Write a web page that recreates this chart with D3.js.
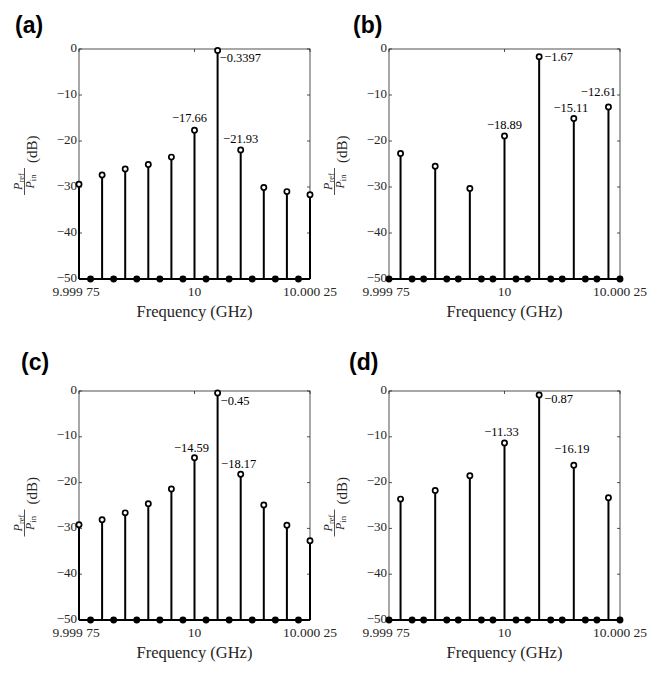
<!DOCTYPE html>
<html>
<head>
<meta charset="utf-8">
<script src="https://cdn.jsdelivr.net/npm/d3@7/dist/d3.min.js"></script>
<style>
  body { margin: 0; background: #fff; }
  svg { display: block; }
</style>
</head>
<body>
<svg id="chart" width="672" height="673"></svg>
<script>
// Frequency grid of the spectrum (GHz)
const frequencyGHz = [
  9.999750, 9.999775, 9.999800, 9.999825, 9.999850, 9.999875, 9.999900,
  9.999925, 9.999950, 9.999975, 10.000000, 10.000025, 10.000050, 10.000075,
  10.000100, 10.000125, 10.000150, 10.000175, 10.000200, 10.000225, 10.000250
];
const xTickValues = [9.99975, 10, 10.00025];
const xTickLabels = ["9.999 75", "10", "10.000 25"];
const yTickValues = [0, -10, -20, -30, -40, -50];
const panelTags = ["(a)", "(b)", "(c)", "(d)"];

// Reflected power ratio P_ref / P_in (dB) for each panel
const powerA = [-29.4, -50, -27.4, -50, -26.1, -50, -25.1, -50, -23.5, -50,
  -17.66, -50, -0.3397, -50, -21.93, -50, -30.1, -50, -31.0, -50, -31.7];
const powerB = [-50, -22.7, -50, -50, -25.5, -50, -50, -30.3, -50, -50,
  -18.89, -50, -50, -1.67, -50, -50, -15.11, -50, -50, -12.61, -50];
const powerC = [-29.2, -50, -28.1, -50, -26.6, -50, -24.6, -50, -21.4, -50,
  -14.59, -50, -0.45, -50, -18.17, -50, -24.9, -50, -29.3, -50, -32.7];
const powerD = [-50, -23.6, -50, -50, -21.7, -50, -50, -18.5, -50, -50,
  -11.33, -50, -50, -0.87, -50, -50, -16.19, -50, -50, -23.3, -50];

// Indices of the lines that carry a value label
const labelledA = [10, 12, 14];
const labelledB = [10, 13, 16, 19];
const labelledC = [10, 12, 14];
const labelledD = [10, 13, 16];

const panelSeries = [powerA, powerB, powerC, powerD];
const panelLabelled = [labelledA, labelledB, labelledC, labelledD];

// Plot frames and label placement
const frames = [
  { left: 79,  right: 310, top: 49,  bottom: 279, tag: [15, 33] },
  { left: 389, right: 620, top: 49,  bottom: 279, tag: [353, 33] },
  { left: 79,  right: 310, top: 391, bottom: 620, tag: [21, 370] },
  { left: 389, right: 620, top: 391, bottom: 620, tag: [349, 370] }
];
const labelPlacement = [
  [{ dx: -5, dy: -8, anchor: "middle" }, { dx: 2, dy: 11, anchor: "start" }, { dx: 0, dy: -7, anchor: "middle" }],
  [{ dx: 0, dy: -7, anchor: "middle" }, { dx: 5, dy: 4, anchor: "start" }, { dx: -3, dy: -7, anchor: "middle" }, { dx: -10, dy: -11, anchor: "middle" }],
  [{ dx: -3, dy: -6, anchor: "middle" }, { dx: 3, dy: 12, anchor: "start" }, { dx: -2, dy: -6, anchor: "middle" }],
  [{ dx: -3, dy: -7, anchor: "middle" }, { dx: 5, dy: 8, anchor: "start" }, { dx: -2, dy: -12, anchor: "middle" }]
];

const serif = "Liberation Serif, Times New Roman, serif";
const axisColor = "#262626";
const svg = d3.select("#chart");

const fmtMinus = v => String(v).replace("-", "\u2212");

panelSeries.forEach((values, p) => {
  const f = frames[p];
  const x = d3.scaleLinear().domain([9.99975, 10.00025]).range([f.left, f.right]);
  const y = d3.scaleLinear().domain([-50, 0]).range([f.bottom, f.top]);
  const g = svg.append("g").style("font-family", serif);

  // frame box
  g.append("rect")
    .attr("x", f.left).attr("y", f.top)
    .attr("width", f.right - f.left).attr("height", f.bottom - f.top)
    .attr("fill", "none").attr("stroke", axisColor).attr("stroke-width", 0.8);

  // inward ticks on all four sides
  const tickLen = 3;
  yTickValues.forEach(t => {
    g.append("line").attr("x1", f.left).attr("x2", f.left + tickLen)
      .attr("y1", y(t)).attr("y2", y(t)).attr("stroke", axisColor).attr("stroke-width", 0.8);
    g.append("line").attr("x1", f.right).attr("x2", f.right - tickLen)
      .attr("y1", y(t)).attr("y2", y(t)).attr("stroke", axisColor).attr("stroke-width", 0.8);
    g.append("text").attr("x", f.left - 2).attr("y", y(t) - 2)
      .attr("text-anchor", "end").attr("dominant-baseline", "central")
      .style("font-size", "13px").attr("fill", axisColor)
      .text(fmtMinus(t));
  });
  xTickValues.forEach((t, i) => {
    g.append("line").attr("x1", x(t)).attr("x2", x(t))
      .attr("y1", f.top).attr("y2", f.top + tickLen).attr("stroke", axisColor).attr("stroke-width", 0.8);
    g.append("line").attr("x1", x(t)).attr("x2", x(t))
      .attr("y1", f.bottom).attr("y2", f.bottom - tickLen).attr("stroke", axisColor).attr("stroke-width", 0.8);
    g.append("text").attr("x", x(t) - (i === 0 ? 3 : 0)).attr("y", f.bottom + 17)
      .attr("text-anchor", "middle")
      .style("font-size", "13.5px").attr("fill", axisColor)
      .text(xTickLabels[i]);
  });

  // x axis title
  g.append("text").attr("x", (f.left + f.right) / 2).attr("y", f.bottom + 38)
    .attr("text-anchor", "middle")
    .style("font-size", "16.5px").attr("fill", axisColor).text("Frequency (GHz)");

  // y axis title: fraction P_ref / P_in followed by (dB), rotated
  const cy = (f.top + f.bottom) / 2;
  const yl = g.append("g")
    .attr("transform", `translate(${f.left - 49},${cy}) rotate(-90)`)
    .attr("fill", axisColor);
  yl.append("text").attr("x", 1).attr("y", 7).style("font-size", "15px").text("(dB)");
  yl.append("line").attr("x1", -31).attr("x2", -4).attr("y1", -5.5).attr("y2", -5.5)
    .attr("stroke", axisColor).attr("stroke-width", 0.8);
  const num = yl.append("text").attr("x", -17.5).attr("y", -8.5).attr("text-anchor", "middle").style("font-size", "12px");
  num.append("tspan").style("font-style", "italic").text("P");
  num.append("tspan").style("font-size", "8.5px").attr("dy", 2).text("ref");
  const den = yl.append("text").attr("x", -17.5).attr("y", 3.5).attr("text-anchor", "middle").style("font-size", "12px");
  den.append("tspan").style("font-style", "italic").text("P");
  den.append("tspan").style("font-size", "8.5px").attr("dy", 2).text("in");

  const pts = values.map((v, i) => ({ f: frequencyGHz[i], v }));

  // stems
  g.selectAll("line.stem").data(pts).enter().append("line").attr("class", "stem")
    .attr("x1", d => x(d.f)).attr("x2", d => x(d.f))
    .attr("y1", y(-50)).attr("y2", d => y(d.v))
    .attr("stroke", "#000").attr("stroke-width", 2);

  // baseline
  g.append("line").attr("x1", f.left).attr("x2", f.right)
    .attr("y1", y(-50)).attr("y2", y(-50)).attr("stroke", "#000").attr("stroke-width", 2);

  // markers
  g.selectAll("circle").data(pts).enter().append("circle")
    .attr("cx", d => x(d.f)).attr("cy", d => y(d.v)).attr("r", 2.6)
    .attr("fill", d => d.v <= -50 ? "#000" : "#fff")
    .attr("stroke", "#000").attr("stroke-width", 1.7);

  // value labels
  panelLabelled[p].forEach((idx, k) => {
    const pl = labelPlacement[p][k];
    g.append("text")
      .attr("x", x(frequencyGHz[idx]) + pl.dx).attr("y", y(values[idx]) + pl.dy)
      .attr("text-anchor", pl.anchor)
      .style("font-size", "12.5px").attr("fill", "#000")
      .text(fmtMinus(values[idx]));
  });

  // panel tag
  svg.append("text").attr("x", f.tag[0]).attr("y", f.tag[1])
    .style("font-family", "Liberation Sans, Arial, sans-serif").style("font-weight", "bold")
    .style("font-size", "23px").attr("fill", "#000").text(panelTags[p]);
});
</script>
</body>
</html>
